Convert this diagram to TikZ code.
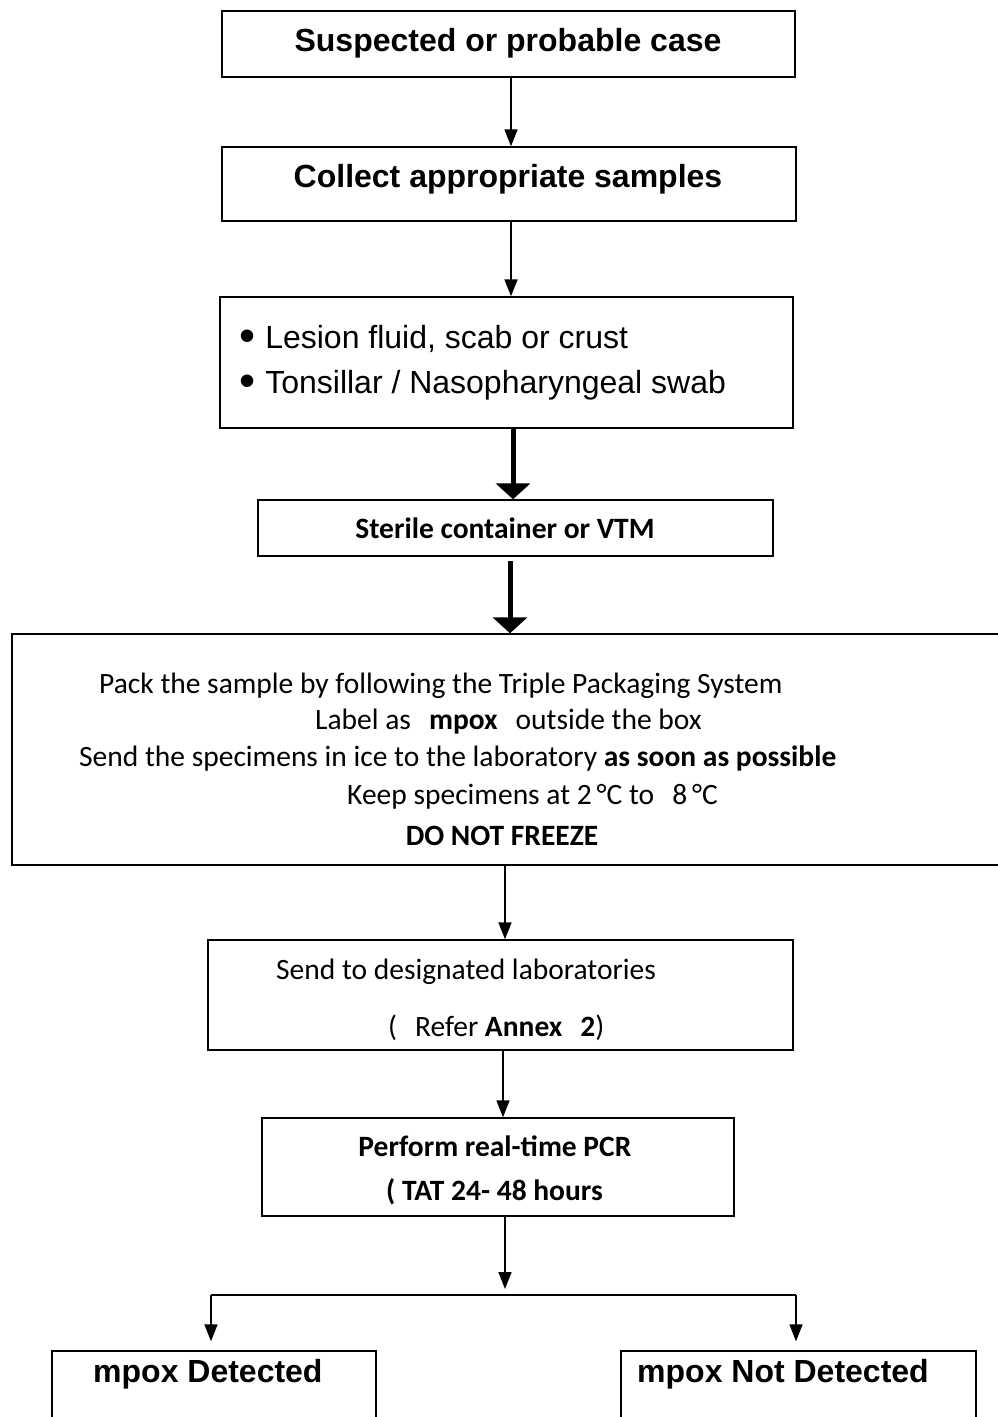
\documentclass[tikz,border=0pt]{standalone}
\usepackage{fontspec}
\setmainfont{Liberation Sans}
\newfontfamily\arialf{Liberation Sans}
\newfontfamily\calibrif{Carlito}
\usetikzlibrary{arrows.meta}
\tikzset{
  box/.style={draw, line width=1.4pt, inner sep=0pt},
  arr/.style={-{Triangle[width=13pt,length=17pt]}, line width=1.6pt},
  bigarr/.style={-{Triangle[width=34pt,length=16pt]}, line width=5pt},
  ariallg/.style={font=\arialf\fontsize{32}{36}\selectfont, inner sep=0pt},
  arialbd/.style={font=\arialf\bfseries\fontsize{32}{36}\selectfont, inner sep=0pt},
  calib/.style={font=\calibrif\fontsize{29.5}{34}\selectfont, inner sep=0pt},
  calibbd/.style={font=\calibrif\bfseries\fontsize{29.5}{34}\selectfont, inner sep=0pt},
}
\newcommand{\bigbullet}{\raisebox{-3pt}{\fontsize{46}{46}\selectfont •}}
\begin{document}
\begin{tikzpicture}[x=1pt,y=-1pt]
\useasboundingbox (0,0) rectangle (998,1417);
\clip (0,0) rectangle (998,1417);
\fill[white] (0,0) rectangle (998,1417);

% boxes
\node[box, minimum width=573pt, minimum height=66pt] (b1) at (508.5,44) {};
\node[box, minimum width=574pt, minimum height=74pt] (b2) at (509,184) {};
\node[box, minimum width=573pt, minimum height=131pt] (b3) at (506.5,362.5) {};
\node[box, minimum width=515pt, minimum height=56pt] (b4) at (515.5,528) {};
\node[box, minimum width=998pt, minimum height=231pt] (b5) at (511,749.5) {};
\node[box, minimum width=585pt, minimum height=110pt] (b6) at (500.5,995) {};
\node[box, minimum width=472pt, minimum height=98pt] (b7) at (498,1167) {};
\node[box, minimum width=324pt, minimum height=79pt] (b8) at (214,1390.5) {};
\node[box, minimum width=355pt, minimum height=79pt] (b9) at (798.5,1390.5) {};

% texts
\node[arialbd, anchor=mid] (t1) at (508,49) {Suspected or probable case};
\node[arialbd, anchor=mid] (t2) at (508,185) {Collect appropriate samples};
\node[ariallg, anchor=mid west] (t3a) at (239,346) {\bigbullet\hspace{10pt}Lesion fluid, scab or crust};
\node[ariallg, anchor=mid west] (t3b) at (239,391) {\bigbullet\hspace{10pt}Tonsillar / Nasopharyngeal swab};
\node[calibbd, anchor=mid] (t4) at (505,536) {Sterile container or VTM};
\node[calib, anchor=mid west] (t5a) at (99,691) {Pack the sample by following the Triple Packaging System};
\node[calib, anchor=mid west] (t5b) at (315,727) {Label as\hspace{18pt}\textbf{mpox}\hspace{18pt}outside the box};
\node[calib, anchor=mid west] (t5c) at (79,764) {Send the specimens in ice to the laboratory \textbf{as soon as possible}};
\node[calib, anchor=mid west] (t5d) at (347,802) {Keep specimens at 2\,°C to\hspace{18pt}8\,°C};
\node[calibbd, anchor=center] (t5e) at (502,836) {DO NOT FREEZE};
\node[calib, anchor=mid west] (t6a) at (276,977) {Send to designated laboratories};
\node[calib, anchor=mid west] (t6b) at (388,1034) {(\hspace{18pt}Refer \textbf{Annex}\hspace{18pt}\textbf{2})};
\node[calibbd, anchor=mid] (t7a) at (495,1154) {Perform real-time PCR};
\node[calibbd, anchor=mid west] (t7b) at (386,1198) {( TAT 24- 48 hours};
\node[arialbd, anchor=mid west] (t8) at (93,1380) {mpox Detected};
\node[arialbd, anchor=mid west] (t9) at (637,1380) {mpox Not Detected};

% connectors
\draw[arr] (511,0 |- b1.south) -- (511,0 |- b2.north);
\draw[arr] (511,0 |- b2.south) -- (511,0 |- b3.north);
\draw[bigarr] (513,0 |- b3.south) -- (513,0 |- b4.north);
\draw[bigarr] ([yshift=-4pt]510,0 |- b4.south) -- (510,0 |- b5.north);
\draw[arr] (505,0 |- b5.south) -- (505,0 |- b6.north);
\draw[arr] (503,0 |- b6.south) -- (503,0 |- b7.north);
\coordinate (split) at (505,1295);
\coordinate (hl) at (211,1295);
\coordinate (hr) at (796,1295);
\draw[arr, shorten >=6pt] (505,0 |- b7.south) -- (split);
\draw[line width=1.8pt] (hl) -- (hr);
\draw[arr, shorten >=9pt] (hl) -- (hl |- b8.north);
\draw[arr, shorten >=9pt] (hr) -- (hr |- b9.north);
\end{tikzpicture}
\end{document}
